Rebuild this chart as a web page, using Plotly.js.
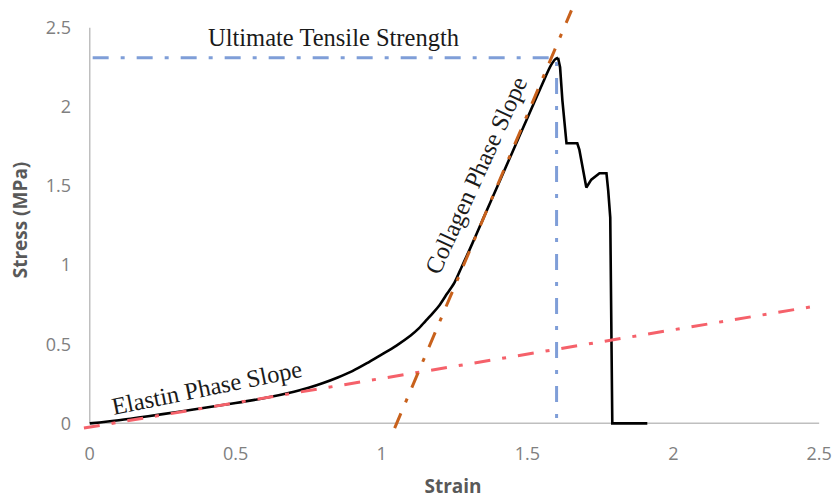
<!DOCTYPE html>
<html>
<head>
<meta charset="utf-8">
<script src="https://cdn.plot.ly/plotly-3.0.1.min.js"></script>
<style>html,body{margin:0;padding:0;background:#fff;}#chart{width:835px;height:499px;}</style>
</head>
<body>
<div id="chart"></div>
<script>
// Stress-strain curve (black)
const strain = [0, 0.1, 0.2, 0.3, 0.4, 0.5, 0.6, 0.7, 0.75, 0.8, 0.85, 0.9, 0.95, 1.0, 1.05, 1.1, 1.125, 1.15, 1.175, 1.2, 1.225, 1.25, 1.275, 1.3, 1.35, 1.4, 1.45, 1.5, 1.55, 1.58, 1.595, 1.605, 1.612, 1.62, 1.634, 1.671, 1.678, 1.702, 1.719, 1.747, 1.771, 1.777, 1.784, 1.791, 1.911];
const stress = [0, 0.02, 0.045, 0.072, 0.1, 0.128, 0.16, 0.2, 0.225, 0.255, 0.29, 0.33, 0.38, 0.435, 0.49, 0.555, 0.595, 0.645, 0.695, 0.75, 0.82, 0.89, 0.99, 1.09, 1.30, 1.51, 1.72, 1.93, 2.14, 2.26, 2.30, 2.31, 2.25, 2.04, 1.77, 1.77, 1.73, 1.49, 1.54, 1.58, 1.58, 1.47, 1.30, 0, 0];
// Ultimate tensile strength guide
const utsX = [0.01, 1.6, 1.6];
const utsY = [2.31, 2.31, -0.01];
// Elastin phase slope
const elastinX = [-0.02, 2.5];
const elastinY = [-0.03, 0.745];
// Collagen phase slope
const collagenX = [1.045, 1.651];
const collagenY = [-0.03, 2.61];
// Ticks
const xTicks = [0, 0.5, 1, 1.5, 2, 2.5];
const xTickText = ['0', '0.5', '1', '1.5', '2', '2.5'];
const yTicks = [0, 0.5, 1, 1.5, 2, 2.5];
const yTickText = ['0', '0.5', '1', '1.5', '2', '2.5'];

// split curve at peak: smooth loading part, linear failure part
const peakIdx = stress.indexOf(Math.max(...stress));
const dashPat = '16px,12px,4px,12px';
const traces = [
  {x: strain.slice(0, peakIdx + 1), y: stress.slice(0, peakIdx + 1), mode: 'lines',
   line: {color: '#000000', width: 2.6, shape: 'spline', smoothing: 0.8}},
  {x: strain.slice(peakIdx), y: stress.slice(peakIdx), mode: 'lines',
   line: {color: '#000000', width: 2.6}},
  {x: utsX, y: utsY, mode: 'lines', line: {color: '#7f9ed8', width: 3, dash: dashPat}},
  {x: elastinX, y: elastinY, mode: 'lines', line: {color: '#f5616a', width: 3, dash: dashPat}},
  {x: collagenX, y: collagenY, mode: 'lines', line: {color: '#c8611c', width: 3, dash: dashPat}}
];

const gray = '#bfbfbf';
const layout = {
  width: 835, height: 499,
  margin: {l: 81, r: 10, t: 4, b: 63},
  paper_bgcolor: '#ffffff', plot_bgcolor: '#ffffff',
  showlegend: false, hovermode: false,
  font: {family: 'Open Sans, sans-serif', color: '#7f7f7f'},
  xaxis: {
    range: [-0.03, 2.52], showgrid: false, zeroline: false, showline: false,
    tickvals: xTicks, ticktext: xTickText, ticks: '', ticklabelstandoff: 5,
    tickfont: {size: 18, color: '#808080', family: 'Open Sans, sans-serif'},
    title: {text: 'Strain', font: {size: 19, color: '#595959', family: 'Open Sans, sans-serif', weight: 'bold'}, standoff: 17}
  },
  yaxis: {
    range: [-0.08, 2.65], showgrid: false, zeroline: false, showline: false,
    tickvals: yTicks, ticktext: yTickText, ticks: '', ticklabelstandoff: 9,
    tickfont: {size: 18, color: '#808080', family: 'Open Sans, sans-serif'},
    title: {text: 'Stress (MPa)', font: {size: 19, color: '#595959', family: 'Open Sans, sans-serif', weight: 'bold'}, standoff: 13}
  },
  shapes: [
    {type: 'line', xref: 'x', yref: 'y', x0: 0, x1: 0, y0: 0, y1: 2.5, line: {color: gray, width: 1.5}, layer: 'below'},
    {type: 'line', xref: 'x', yref: 'y', x0: 0, x1: 2.5, y0: 0, y1: 0, line: {color: gray, width: 1.5}, layer: 'below'}
  ],
  annotations: [
    {text: 'Ultimate Tensile Strength', x: 0.836, y: 2.44, xref: 'x', yref: 'y', showarrow: false,
     font: {family: 'Liberation Serif, serif', size: 24.5, color: '#1a1a1a'}},
    {text: 'Elastin Phase Slope', x: 0.40, y: 0.228, xref: 'x', yref: 'y', showarrow: false, textangle: -11.5,
     font: {family: 'Liberation Serif, serif', size: 24.5, color: '#1a1a1a'}},
    {text: 'Collagen Phase Slope', x: 1.325, y: 1.57, xref: 'x', yref: 'y', showarrow: false, textangle: -65.5,
     font: {family: 'Liberation Serif, serif', size: 24.5, color: '#1a1a1a'}}
  ]
};

Plotly.newPlot('chart', traces, layout, {displayModeBar: false, staticPlot: true});
</script>
</body>
</html>
